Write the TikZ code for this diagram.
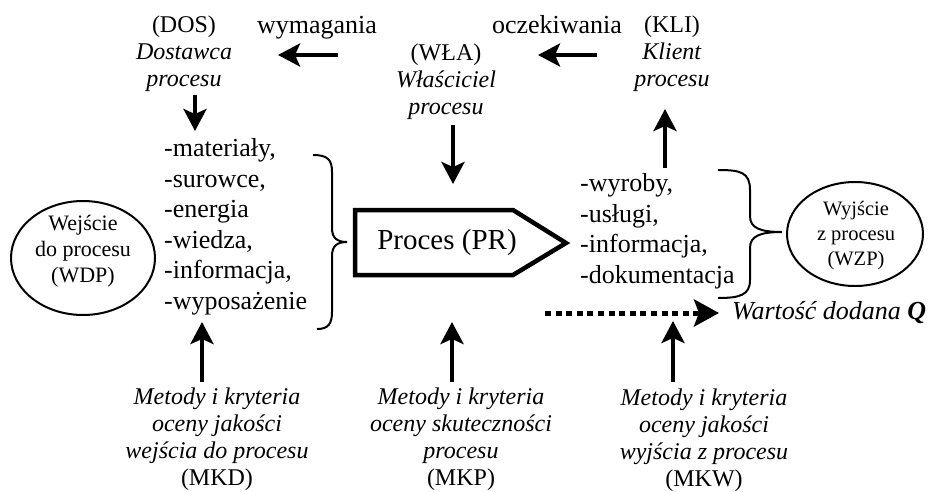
\documentclass[tikz,border=0pt]{standalone}
\usepackage{fontspec}
\setmainfont{Liberation Serif}
\usetikzlibrary{arrows.meta,shapes.geometric}
\begin{document}
\begin{tikzpicture}[x=1pt,y=-1pt,
  arr/.style={line width=4pt,-{Stealth[length=22pt,width=23pt,inset=5pt]}},
  big/.style={font=\fontsize{26}{30}\selectfont, inner sep=0pt},
  lab/.style={font=\fontsize{24}{27}\selectfont, align=center, inner sep=0pt},
  lst/.style={font=\fontsize{26}{30.5}\selectfont, align=left, anchor=west, inner sep=0pt},
  bracestyle/.style={line width=2pt},
  oval/.style={draw, ellipse, line width=2pt, inner sep=0pt},
  ovaltext/.style={font=\fontsize{22}{26}\selectfont, align=center, inner sep=0pt}]
\useasboundingbox (0,0) rectangle (937,491);

% top labels
\node[lab] (dos) at (184,54) {(DOS)\\\textit{Dostawca}\\\textit{procesu}};
\node[big, anchor=base] (wym) at (317,33) {wymagania};
\node[lab] (wla) at (446,82) {(WŁA)\\\textit{Właściciel}\\\textit{procesu}};
\node[big, anchor=base] (ocz) at (557,33) {oczekiwania};
\node[lab] (kli) at (672,54) {(KLI)\\\textit{Klient}\\\textit{procesu}};

% top arrows
\coordinate (wymS) at (338,55); \coordinate (wymE) at (278,55);
\coordinate (oczS) at (597,55); \coordinate (oczE) at (538,55);
\coordinate (dosS) at (195,95); \coordinate (dosE) at (195,131);
\coordinate (wlaS) at (453,125); \coordinate (wlaE) at (453,184);
\coordinate (kliS) at (665,168); \coordinate (kliE) at (665,109);
\draw[arr] (wymS) -- (wymE);
\draw[arr] (oczS) -- (oczE);
\draw[arr] (dosS) -- (dosE);
\draw[arr] (wlaS) -- (wlaE);
\draw[arr] (kliS) -- (kliE);

% input list and brace
\node[lst] (inlist) at (164,227) {-materiały,\\-surowce,\\-energia\\-wiedza,\\-informacja,\\-wyposażenie};
\draw[bracestyle] (313,155) .. controls (328,155) and (332,160) .. (332,172) -- (332,228)
  .. controls (332,238) and (337,242) .. (347,242)
  .. controls (337,242) and (332,246) .. (332,256) -- (332,312)
  .. controls (332,324) and (328,329) .. (317,329);

% process
\draw[line width=4.5pt, line join=miter] (355,210) -- (513,210) -- (566,243) -- (513,275) -- (355,275) -- cycle;
\node[font=\fontsize{29}{32}\selectfont, inner sep=0pt] (proc) at (447,243) {Proces (PR)};

% output list and brace
\node[lst] (outlist) at (580,231) {-wyroby,\\-usługi,\\-informacja,\\-dokumentacja};
\draw[bracestyle] (718,170) .. controls (740,170) and (750,172) .. (750,190) -- (750,216)
  .. controls (750,228) and (760,232) .. (782,232)
  .. controls (760,232) and (750,236) .. (750,248) -- (750,280)
  .. controls (750,295) and (740,298) .. (718,298);

% ovals
\node[oval, minimum width=144pt, minimum height=114pt] (wdp) at (83,258) {};
\node[ovaltext] (wdptext) at (83,251) {Wejście\\do procesu\\(WDP)};
\node[oval, minimum width=136pt, minimum height=104pt] (wzp) at (855,234) {};
\node[ovaltext, font=\fontsize{20.5}{25}\selectfont] (wzptext) at (856,236) {Wyjście\\z procesu\\(WZP)};

% added value
\coordinate (dotS) at (545,313); \coordinate (dotE) at (719,313);
\draw[line width=5pt, dash pattern=on 6pt off 4.6pt, -{Stealth[length=25pt,width=27pt,inset=5pt]}] (dotS) -- (dotE);
\node[font=\fontsize{26}{30}\selectfont\itshape, anchor=base west, inner sep=0pt] (val) at (732,319) {Wartość dodana \textbf{Q}};

% bottom labels
\node[lab] (mkd) at (217,439) {\textit{Metody i kryteria}\\\textit{oceny jakości}\\\textit{wejścia do procesu}\\(MKD)};
\node[lab] (mkp) at (461,439.5) {\textit{Metody i kryteria}\\\textit{oceny skuteczności}\\\textit{procesu}\\(MKP)};
\node[lab] (mkw) at (704,440.5) {\textit{Metody i kryteria}\\\textit{oceny jakości}\\\textit{wyjścia z procesu}\\(MKW)};

% bottom arrows
\coordinate (mkdS) at (202,382); \coordinate (mkdE) at (202,322);
\coordinate (mkpS) at (452,382); \coordinate (mkpE) at (452,322);
\coordinate (mkwS) at (673,382); \coordinate (mkwE) at (673,321);
\draw[arr] (mkdS) -- (mkdE);
\draw[arr] (mkpS) -- (mkpE);
\draw[arr] (mkwS) -- (mkwE);
\end{tikzpicture}
\end{document}
